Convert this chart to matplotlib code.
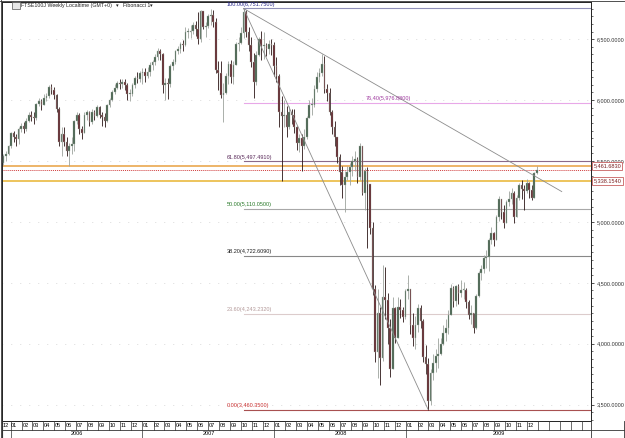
import numpy as np
import pandas as pd
import matplotlib
matplotlib.use("Agg")
import matplotlib.pyplot as plt
import matplotlib.dates as mdates
from matplotlib.ticker import MultipleLocator, FuncFormatter
from matplotlib.lines import Line2D
from matplotlib.patches import Rectangle
import matplotlib.transforms as mtransforms

plt.rcParams['font.family'] = ['Liberation Sans', 'DejaVu Sans']

# weekly FTSE100 candles, one per week starting Monday 2005-12-12
first_week = '2005-12-12'
first_open = 5480
closes = [
    5540, 5560, 5620,                                   # dec 05
    5730, 5700, 5680, 5760, 5790, 5760, 5830, 5880,     # jan-feb 06
    5860, 5850, 5970, 5990, 5960, 6020, 6030, 6110, 6080,  # mar-apr
    6040, 5930, 5660, 5720, 5660, 5580, 5620, 5640, 5830,  # may-jun
    5880, 5760, 5730, 5880, 5900, 5820, 5900, 5870, 5940,  # jul-aug
    5880, 5860, 5830, 5960, 6000, 6070, 6100, 6140, 6130,  # sep-oct
    6150, 6120, 6050, 6050, 6120, 6180, 6170, 6220,        # nov-dec
    6230, 6200, 6230, 6290, 6310, 6350, 6400, 6380,        # jan-feb 07
    6120, 6140, 6130, 6280, 6310, 6400, 6420, 6460, 6450,  # mar-apr
    6560, 6560, 6570, 6620, 6580, 6500, 6730, 6600, 6610,  # may-jun
    6690, 6700, 6640, 6250, 6220, 6040, 6060, 6200, 6300,  # jul-aug
    6190, 6290, 6460, 6470, 6550, 6720, 6560, 6450, 6310,  # sep-oct
    6150, 6370, 6500, 6440, 6450, 6420, 6460, 6450,        # nov-dec
    6280, 6200, 5900, 5870, 5880, 5780, 5900, 5880,        # jan-feb 08
    5780, 5650, 5690, 5620, 5700, 5850, 5960, 5960, 6090,  # mar-apr
    6190, 6220, 6300, 6090, 6060, 5900, 5780, 5700, 5530,  # may-jun
    5410, 5300, 5370, 5410, 5450, 5500, 5520, 5370, 5620,  # jul-aug
    5240, 5420, 5310, 4950, 4450, 3930, 4250, 3880, 4380,  # sep-oct
    4360, 4130, 3790, 4290, 4050, 4300, 4280, 4220, 4430,  # nov-dec
    4450, 4150, 4050, 4150, 4290, 4190, 3890, 3830,        # jan-feb 09
    3530, 3760, 3840, 3900, 3920, 4000, 4090, 4130, 4240,  # mar-apr
    4460, 4350, 4470, 4420, 4440, 4440, 4340, 4240, 4250,  # may-jun
    4130, 4390, 4580, 4610, 4700, 4710, 4850, 4910, 4850,  # jul-aug
    5040, 5190, 5080, 4990, 5160, 5190, 5240, 5040, 5200,  # sep-oct
    5300, 5270, 5250, 5320, 5260, 5200, 5400, 5430,        # nov-dec
]
highs = [
    5560, 5580, 5630,
    5740, 5750, 5720, 5780, 5810, 5820, 5850, 5900,
    5910, 5900, 5980, 6020, 6010, 6050, 6060, 6125, 6130,
    6110, 6050, 5940, 5780, 5780, 5700, 5650, 5700, 5840,
    5900, 5890, 5790, 5900, 5920, 5910, 5930, 5920, 5960,
    5950, 5900, 5890, 5970, 6020, 6080, 6130, 6160, 6170,
    6175, 6170, 6140, 6090, 6140, 6200, 6230, 6240,
    6260, 6260, 6270, 6310, 6330, 6380, 6430, 6420,
    6390, 6180, 6180, 6300, 6340, 6410, 6440, 6480, 6490,
    6600, 6590, 6620, 6640, 6650, 6720, 6740, 6730, 6640,
    6710, 6745, 6740, 6670, 6320, 6320, 6140, 6220, 6320,
    6330, 6320, 6480, 6520, 6600, 6751.75, 6740, 6600, 6520,
    6390, 6400, 6520, 6570, 6560, 6470, 6490, 6500,
    6480, 6350, 6210, 6030, 6000, 5950, 5950, 5930,
    5930, 5790, 5720, 5720, 5760, 5870, 6000, 6020, 6120,
    6230, 6260, 6376, 6360, 6130, 6100, 5920, 5830, 5700,
    5560, 5460, 5420, 5460, 5480, 5540, 5580, 5530, 5650,
    5620, 5440, 5450, 5250, 5000, 4480, 4450, 4300, 4650,
    4630, 4420, 4200, 4380, 4300, 4380, 4370, 4300, 4450,
    4565, 4450, 4250, 4230, 4330, 4320, 4200, 3990,
    3880, 3790, 3920, 3960, 4050, 4050, 4150, 4200, 4280,
    4490, 4470, 4480, 4490, 4520, 4510, 4460, 4360, 4320,
    4250, 4410, 4600, 4650, 4730, 4770, 4870, 4960, 4920,
    5060, 5210, 5180, 5140, 5180, 5250, 5280, 5250, 5220,
    5320, 5340, 5300, 5350, 5330, 5300, 5410, 5460,
]
lows = [
    5470, 5500, 5550,
    5610, 5660, 5620, 5640, 5740, 5730, 5750, 5820,
    5830, 5800, 5840, 5950, 5920, 5960, 5990, 6020, 6050,
    6010, 5900, 5620, 5540, 5620, 5540, 5460, 5560, 5580,
    5800, 5720, 5680, 5730, 5840, 5790, 5800, 5840, 5860,
    5850, 5790, 5780, 5820, 5940, 5990, 6050, 6090, 6090,
    6100, 6080, 6000, 5990, 6030, 6100, 6140, 6150,
    6130, 6150, 6180, 6200, 6250, 6290, 6330, 6330,
    6060, 6000, 6010, 6110, 6250, 6300, 6380, 6390, 6400,
    6440, 6510, 6510, 6540, 6530, 6460, 6480, 6580, 6520,
    6590, 6620, 6600, 6220, 6080, 6020, 5820, 6050, 6130,
    6140, 6130, 6290, 6400, 6460, 6510, 6520, 6400, 6270,
    6020, 6120, 6360, 6330, 6340, 6360, 6380, 6370,
    6200, 6150, 5780, 5338.154, 5780, 5700, 5760, 5800,
    5730, 5590, 5570, 5414, 5600, 5680, 5850, 5880, 5940,
    6070, 6150, 6200, 6060, 5990, 5880, 5720, 5620, 5480,
    5300, 5200, 5080, 5340, 5300, 5380, 5420, 5320, 5340,
    5220, 5100, 4790, 4900, 4400, 3850, 3720, 3663, 3860,
    4200, 4000, 3730, 3800, 4010, 4080, 4210, 4180, 4200,
    4370, 4080, 3980, 3960, 4100, 4130, 3850, 3750,
    3460.35, 3500, 3700, 3770, 3800, 3910, 3990, 4020, 4080,
    4240, 4300, 4310, 4330, 4380, 4370, 4290, 4200, 4160,
    4090, 4120, 4380, 4520, 4580, 4620, 4600, 4820, 4800,
    4850, 5010, 5020, 4950, 4990, 5130, 5150, 4990, 5040,
    5180, 5190, 5100, 5240, 5200, 5180, 5200, 5390,
]

fib_pcts = [100.0, 76.4, 61.8, 50.0, 38.2, 23.6, 0.0]
fib_values = [6751.75, 5976.88, 5497.491, 5110.05, 4722.609, 4243.232, 3460.35]
fib_line_colors = ['#9090b8', '#e8a8e8', '#8a6a8a', '#a8a8a8', '#888888', '#dccccc', '#a85050']
fib_text_colors = ['#2a2a8c', '#a03ca0', '#5a2a5a', '#2a7a2a', '#202020', '#b49a9a', '#c83030']
fib_start = '2007-10-08'
fib_end = '2009-03-02'

support_levels = [5461.683, 5338.154]
trend_start = ('2007-10-08', 6751.75)
trend_end = ('2010-03-07', 5249)

month_names = ['01', '02', '03', '04', '05', '06', '07', '08', '09', '10', '11', '12']

# ---- data frame
dates = pd.date_range(first_week, periods=len(closes), freq='7D')
df = pd.DataFrame({'close': closes, 'high': highs, 'low': lows}, index=dates)
df['open'] = df['close'].shift(1).fillna(first_open)
df['high'] = df[['high', 'open', 'close']].max(axis=1)
df['low'] = df[['low', 'open', 'close']].min(axis=1)
xd = mdates.date2num(df.index.to_pydatetime())

W, H = 625, 438
fig = plt.figure(figsize=(W / 100, H / 100), dpi=100)
fig.patch.set_facecolor('white')
ax_l, ax_r, ax_t, ax_b = 2, 591, 2, 421
ax = fig.add_axes([ax_l / W, 1 - ax_b / H, (ax_r - ax_l) / W, (ax_b - ax_t) / H])

xmin = mdates.date2num(pd.Timestamp('2005-12-08'))
xmax = mdates.date2num(pd.Timestamp('2010-05-27'))
ax.set_xlim(xmin, xmax)
ax.set_ylim(3366, 6805)

# candles
up = df['close'] >= df['open']
body_bot = np.minimum(df['open'], df['close'])
body_h = np.maximum(np.abs(df['close'] - df['open']), 8)
wick_col = np.where(up, '#9ca29c', '#2a1414')
body_col = np.where(up, '#44604c', '#5e2228')
ax.vlines(xd, df['low'], df['high'], colors=wick_col, lw=0.6, zorder=3)
ax.bar(xd, body_h, bottom=body_bot, width=4.6, color=body_col,
       edgecolor='#a8b0a8', linewidth=0.25, zorder=4)

# fibonacci retracement
fs = mdates.date2num(pd.Timestamp(fib_start))
fe = mdates.date2num(pd.Timestamp(fib_end))
for pct, val, lc, tc in zip(fib_pcts, fib_values, fib_line_colors, fib_text_colors):
    ax.plot([fs, xmax], [val, val], color=lc, lw=0.8, zorder=2)
    label = f"{pct:.2f}({val:,.4f})"
    dx = 88 if pct == 76.4 else -12
    ax.annotate(label, (fs, val), xytext=(dx, 1.2), textcoords='offset points',
                fontsize=4, color=tc, va='bottom', ha='left', zorder=6)
ax.plot([fs, fe], [fib_values[0], fib_values[-1]], color='#8c8c8c', lw=0.6, zorder=5)

# trend line
ts = mdates.date2num(pd.Timestamp(trend_start[0]))
te = mdates.date2num(pd.Timestamp(trend_end[0]))
ax.plot([ts, te], [trend_start[1], trend_end[1]], color='#8c8c8c', lw=0.6, zorder=5)

# support / resistance lines
ax.axhline(support_levels[0], color='#e8a040', lw=1.1, zorder=2)
ax.axhline(df['close'].iloc[-1], color='#d03c3c', lw=0.7, ls=(0, (1, 1)), zorder=2)
ax.axhline(support_levels[1], color='#e8b430', lw=1.1, zorder=2)

# y axis on right
ax.yaxis.tick_right()
ax.yaxis.set_major_locator(MultipleLocator(500))
ax.yaxis.set_minor_locator(MultipleLocator(62.5))
ax.yaxis.set_major_formatter(FuncFormatter(lambda v, p: f"{v:,.4f}"))
ax.tick_params(axis='y', which='major', length=2.5, width=0.6, labelsize=4, pad=1.5, colors='#333333')
ax.tick_params(axis='y', which='minor', length=1.5, width=0.5, colors='#333333')
ax.tick_params(axis='x', which='both', bottom=False, labelbottom=False)
ax.grid(axis='y', which='major', color='#c0c0c0', lw=0.6, ls=(0, (0.8, 10)))
for s in ax.spines.values():
    s.set_color('#222222')
    s.set_linewidth(0.7)

trans = mtransforms.blended_transform_factory(ax.transAxes, ax.transData)
for lvl in [support_levels[0], support_levels[1]]:
    ax.text(1.004, lvl, f"{lvl:,.4f}", transform=trans, fontsize=4, color='#7a2020',
            va='center', ha='left', zorder=10, clip_on=False,
            bbox=dict(boxstyle='square,pad=0.25', fc='white', ec='#c86060', lw=0.6))

# header
fig.add_artist(Rectangle((12 / W, 1 - 9 / H), 8 / W, 7 / H, transform=fig.transFigure,
                         fc='#e8e8e8', ec='#555555', lw=0.5))
hdr = dict(fontsize=3.8, va='center', color='#222222')
fig.text(21 / W, 1 - 5.5 / H, "FTSE100J Weekly Localtime (GMT+0)", **hdr)
fig.text(116 / W, 1 - 5.5 / H, "▾", **hdr)
fig.text(123 / W, 1 - 5.5 / H, "Fibonacci 1", **hdr)
fig.text(150 / W, 1 - 5.5 / H, "▾", **hdr)

# date strip at bottom
sx = fig.add_axes([ax_l / W, 0, (ax_r - ax_l) / W, (H - ax_b) / H])
sx.set_xlim(xmin, xmax)
sx.set_ylim(0, 1)
sx.axis('off')
mid, bot = (H - 430) / (H - ax_b), (H - 437.5) / (H - ax_b)
sx.axhline(mid, color='#333333', lw=0.6)
sx.axhline(bot, color='#333333', lw=0.6)
sx.axvline(xmin, color='#333333', lw=0.8)
months = pd.date_range('2005-12-01', '2010-06-01', freq='MS')
last_month = pd.Timestamp('2009-12-01')
for i, m in enumerate(months[:-1]):
    m0 = max(mdates.date2num(m), xmin)
    if m0 >= xmax:
        break
    sx.plot([m0, m0], [mid, 1], color='#333333', lw=0.5)
    if m <= last_month:
        sx.text(m0 + 1.5, (mid + 1) / 2, month_names[m.month - 1], fontsize=4, va='center', ha='left')
for yr in [2006, 2007, 2008, 2009]:
    y0 = mdates.date2num(pd.Timestamp(f'{yr}-01-01'))
    y1 = mdates.date2num(pd.Timestamp(f'{yr + 1}-01-01')) if yr < 2009 else xmax
    sx.plot([y0, y0], [bot, mid], color='#333333', lw=0.5)
    sx.text((y0 + y1) / 2, (mid + bot) / 2, str(yr), fontsize=4, va='center', ha='center')

# right-hand box under the price axis and outer frame
for seg in [((ax_r, 430), (W, 430)), ((ax_r, 437.5), (W, 437.5)), ((ax_r, ax_b), (ax_r, H)),
            ((W - 1, ax_b), (W - 1, H)), ((0.5, 0), (0.5, H)), ((0, 0.5), (W, 0.5))]:
    (x0, y0), (x1, y1) = seg
    fig.add_artist(Line2D([x0 / W, x1 / W], [1 - y0 / H, 1 - y1 / H], transform=fig.transFigure,
                          color='#333333', lw=0.6))

fig.savefig('out.png', dpi=100)
